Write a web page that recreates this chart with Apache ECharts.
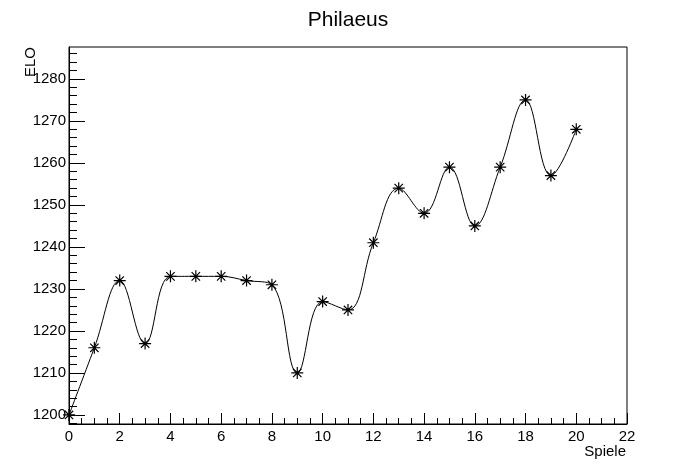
<!DOCTYPE html>
<html>
<head>
<meta charset="utf-8">
<script src="https://cdn.jsdelivr.net/npm/echarts@6/dist/echarts.min.js"></script>
<style>
  html, body { margin: 0; padding: 0; background: #fff; }
  #chart { width: 696px; height: 472px; }
</style>
</head>
<body>
<div id="chart"></div>
<script>
const titleText = 'Philaeus';
const xName = 'Spiele';
const yName = 'ELO';
const games = [0, 1, 2, 3, 4, 5, 6, 7, 8, 9, 10, 11, 12, 13, 14, 15, 16, 17, 18, 19, 20];
const elo = [1200, 1216, 1232, 1217, 1233, 1233, 1233, 1232, 1231, 1210, 1227, 1225, 1241, 1254, 1248, 1259, 1245, 1259, 1275, 1257, 1268];
const yMajorTicks = [1200, 1210, 1220, 1230, 1240, 1250, 1260, 1270, 1280];
const yMinorTicks = [1198, 1200, 1202, 1204, 1206, 1208, 1210, 1212, 1214, 1216, 1218, 1220, 1222, 1224, 1226, 1228, 1230, 1232, 1234, 1236, 1238, 1240, 1242, 1244, 1246, 1248, 1250, 1252, 1254, 1256, 1258, 1260, 1262, 1264, 1266, 1268, 1270, 1272, 1274, 1276, 1278, 1280, 1282, 1284, 1286];

const FONT = '"Liberation Sans", Arial, sans-serif';
const Y_MIN = 1197.85, Y_MAX = 1287.6;

const chart = echarts.init(document.getElementById('chart'), null, { renderer: 'canvas' });
const asterisk = 'path://M0,-5L0,5M-5,0L5,0M-3.5,-3.5L3.5,3.5M-3.5,3.5L3.5,-3.5';

chart.setOption({
  animation: false,
  backgroundColor: '#fff',
  title: {
    text: titleText,
    left: 'center',
    top: 5,
    textStyle: { fontFamily: FONT, fontSize: 21, fontWeight: 'normal', color: '#000' }
  },
  grid: {
    left: 69, right: 69, top: 47, bottom: 48,
    show: true, borderColor: '#000', borderWidth: 1, backgroundColor: 'transparent'
  },
  xAxis: [{
    type: 'value', min: 0, max: 22, interval: 2,
    axisLine: { show: true, onZero: false, lineStyle: { color: '#000', width: 1 } },
    axisTick: { show: true, inside: true, length: 11, lineStyle: { color: '#000' } },
    minorTick: { show: true, splitNumber: 4, length: 6, lineStyle: { color: '#000' } },
    axisLabel: { color: '#000', fontFamily: FONT, fontSize: 15, margin: 5 },
    splitLine: { show: false }
  }],
  yAxis: [{
    type: 'value', min: Y_MIN, max: Y_MAX,
    axisLine: { show: true, onZero: false, lineStyle: { color: '#000', width: 1 } },
    axisTick: { show: true, inside: true, length: 16, customValues: yMajorTicks, lineStyle: { color: '#000' } },
    axisLabel: { color: '#000', fontFamily: FONT, fontSize: 15, margin: 3, customValues: yMajorTicks,
      formatter: v => String(Math.round(v)) },
    splitLine: { show: false }
  }, {
    type: 'value', min: Y_MIN, max: Y_MAX, position: 'left',
    axisLine: { show: false },
    axisTick: { show: true, inside: true, length: 8, customValues: yMinorTicks, lineStyle: { color: '#000' } },
    axisLabel: { show: false },
    splitLine: { show: false }
  }],
  graphic: [{
    type: 'text',
    x: 626, y: 452,
    style: { text: xName, fontFamily: FONT, fontSize: 15, fill: '#000', align: 'right', verticalAlign: 'middle' }
  }, {
    type: 'text',
    x: 38, y: 47, rotation: Math.PI / 2,
    style: { text: yName, fontFamily: FONT, fontSize: 15, fill: '#000', align: 'right', verticalAlign: 'bottom' }
  }],
  series: [{
    type: 'line',
    data: games.map((g, i) => [g, elo[i]]),
    smooth: 0.4,
    lineStyle: { color: '#000', width: 1 },
    symbol: asterisk,
    symbolSize: 12,
    itemStyle: { color: 'transparent', borderColor: '#000', borderWidth: 1.2 },
    clip: false
  }]
});
</script>
</body>
</html>
